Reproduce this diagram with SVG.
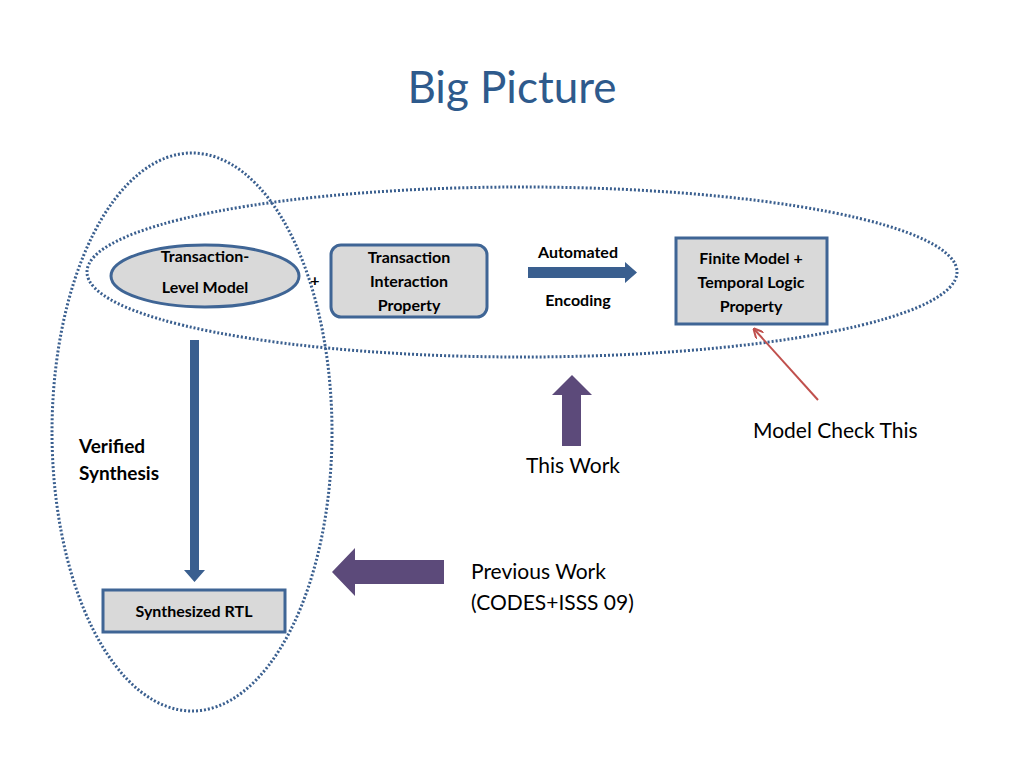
<svg xmlns="http://www.w3.org/2000/svg" width="1024" height="768" viewBox="0 0 1024 768">
<style>
text{font-family:Lato,"Open Sans",sans-serif;fill:#000}
.b{font-weight:bold;font-size:16px;text-anchor:middle}
.dot{fill:none;stroke:#3a5f8f;stroke-width:3;stroke-dasharray:2 2}
.box{fill:#d9d9d9;stroke:#3f6595;stroke-width:3}
.n{font-size:21px}
</style>
<defs><marker id="ra" markerWidth="10" markerHeight="10" refX="9" refY="5" orient="auto" markerUnits="userSpaceOnUse"><path d="M0,0 L10,5 L0,10" fill="none" stroke="#c0504d" stroke-width="2"/></marker></defs>
<rect width="1024" height="768" fill="#fff"/>
<text x="512" y="103" text-anchor="middle" font-size="44" style="fill:#2e5a8c">Big Picture</text>
<g id="groups">
<ellipse class="dot" cx="522" cy="272" rx="435" ry="85"/>
<ellipse class="dot" cx="192" cy="432" rx="140" ry="279"/>
</g>
<g id="tlm"><ellipse class="box" cx="205" cy="276" rx="94" ry="31"/>
<text class="b" x="205" y="262">Transaction-</text><text class="b" x="205" y="293">Level Model</text></g>
<text x="315" y="286" class="b" font-size="18">+</text>
<g id="tip"><rect class="box" x="331" y="245" width="156" height="72" rx="10"/>
<text class="b" x="409" y="263">Transaction</text><text class="b" x="409" y="287">Interaction</text><text class="b" x="409" y="311">Property</text></g>
<g id="fm"><rect class="box" x="676" y="238" width="151" height="86"/>
<text class="b" x="751" y="264">Finite Model +</text><text class="b" x="751" y="288">Temporal Logic</text><text class="b" x="751" y="312">Property</text></g>
<g id="rtl"><rect class="box" x="103" y="590" width="182" height="42"/>
<text class="b" x="194" y="617">Synthesized RTL</text></g>
<g id="connectors">
<path d="M190,340 H199 V570 H205 L194.5,582 L184,570 H190 Z" fill="#3a5f8f"/>
<path d="M528,267 H625 V262 L637,272.5 L625,283 V278 H528 Z" fill="#3a5f8f"/>
<path d="M562,446 V395 H552 L572,375 L592,395 H581 V446 Z" fill="#5c4a7a"/>
<path d="M444,560 H355 V548 L332,572 L355,596 V584 H444 Z" fill="#5c4a7a"/>
<line x1="818" y1="400" x2="754" y2="329" stroke="#c0504d" stroke-width="2" marker-end="url(#ra)"/>
</g>
<text class="b" x="578" y="258">Automated</text>
<text class="b" x="578" y="306">Encoding</text>
<text x="79" y="453" font-size="19" font-weight="bold">Verified</text>
<text x="79" y="480" font-size="19" font-weight="bold">Synthesis</text>
<text class="n" x="753" y="438">Model Check This</text>
<text class="n" x="573" y="473" text-anchor="middle">This Work</text>
<text class="n" x="471" y="579">Previous Work</text>
<text class="n" x="471" y="610">(CODES+ISSS 09)</text>
</svg>
